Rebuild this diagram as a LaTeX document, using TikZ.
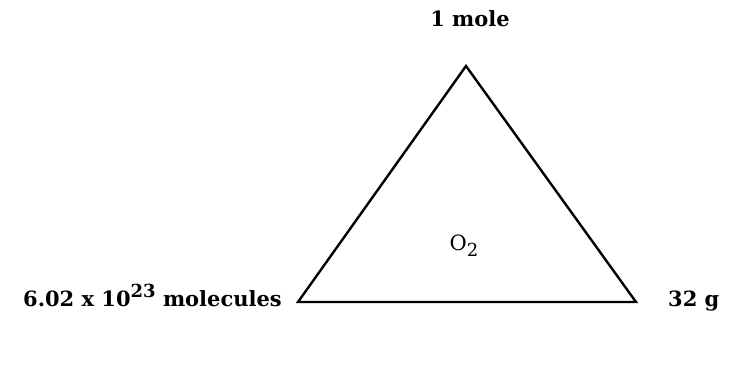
\documentclass[tikz,border=0pt]{standalone}
\usepackage{fontspec}
\setmainfont{DejaVu Serif}
\begin{document}
\begin{tikzpicture}[x=1pt,y=-1pt,
  lbl/.style={font=\fontsize{21}{25}\selectfont\bfseries, inner sep=0pt},
  edge/.style={line width=2.4pt, line join=miter}]
\useasboundingbox (0,0) rectangle (729,370);
\coordinate (top) at (466,66);
\coordinate (bl) at (298,302);
\coordinate (br) at (636,302);
\draw[edge] (top) -- (bl) -- (br) -- cycle;
\node[lbl, anchor=base] (mole) at (470,26) {1 mole};
\node[lbl, anchor=base, font=\fontsize{21}{25}\selectfont] (oxy) at (464,250) {O\raisebox{-0.3em}{\fontsize{18}{20}\selectfont 2}};
\node[lbl, anchor=base east] (molec) at (282,306) {6.02 x 10\raisebox{0.42em}{\fontsize{18}{20}\selectfont\bfseries 23} molecules};
\node[lbl, anchor=base west] (mass) at (668,306) {32 g};
\end{tikzpicture}
\end{document}
